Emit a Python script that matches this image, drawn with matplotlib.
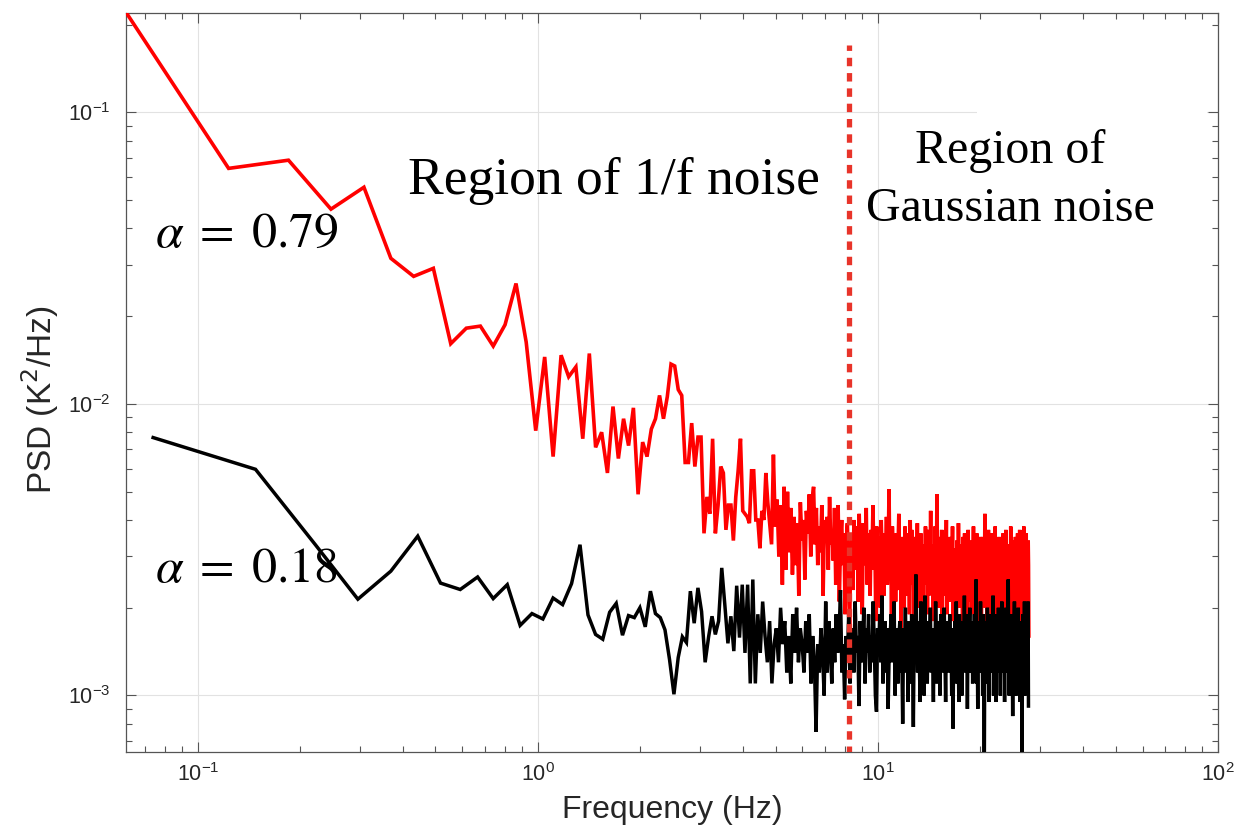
import numpy as np
import matplotlib
matplotlib.use('Agg')
import matplotlib.pyplot as plt
from matplotlib.ticker import LogLocator, NullFormatter
from matplotlib.patches import Rectangle

# ---------------- data (PSD values in units of 1e-4 K^2/Hz) ----------------
df_red = 0.0616      # frequency step of red spectrum (Hz)
df_black = 0.0739    # frequency step of black spectrum (Hz)

psd_red_e4 = [
    2200, 643, 686, 466, 554, 316, 274, 292, 161, 182,
    185, 158, 187, 259, 163, 81, 145, 66, 147, 124,
    134, 76, 149, 71, 80, 58, 98, 65, 89, 72,
    97, 49, 74, 66, 82, 89, 107, 89, 106, 137,
    135, 112, 107, 63, 63, 86, 61, 77, 77, 36,
    48, 42, 76, 36, 45, 61, 58, 37, 45, 45,
    34, 48, 59, 76, 43, 42, 41, 39, 59, 59,
    40, 40, 32,
    43, 40, 58, 46, 39, 33, 67, 38, 47, 30,
    45, 24, 52, 27, 50, 31, 44, 26, 41, 28,
    39, 22, 46, 34, 40, 25, 43, 36, 49, 30,
    47, 52, 33, 44, 28, 38, 31, 45, 22, 40,
    35, 41, 27, 48, 33, 37, 29, 44, 24, 38,
    45, 21, 34, 40, 28, 36, 19, 33, 39, 26,
    17, 30, 36, 23, 40, 31, 27, 38, 21, 42,
    29, 35, 19, 39, 33, 28, 44, 24, 36, 30,
    22, 37, 31, 45, 27, 34, 18, 38, 29, 35,
    32, 20, 40, 30, 36, 22, 33, 28, 41, 24,
    31, 51, 27, 35, 18, 38, 30, 26, 34, 21,
    36, 23, 32, 42, 27, 33, 17, 35, 29, 31,
    20, 38, 28, 34, 22, 36, 30, 19, 40, 24,
    37, 29, 31, 18, 35, 21, 32, 28, 39, 25,
    30, 34, 20, 36, 27, 31, 17, 33, 29, 26,
    38, 24, 30, 19, 37, 22, 32, 27, 43, 25,
    29, 33, 18, 31, 26, 38, 28, 21, 49, 30,
    27, 32, 20, 35, 29, 25, 37, 16, 30, 28,
    36, 22, 31, 27, 40, 19, 29, 32, 23, 30,
    21, 35, 28, 31, 25, 38, 18, 29, 27, 32,
    24, 30, 19, 34, 28, 22, 39, 27, 29, 20,
    33, 21, 30, 28, 17, 35, 24, 29, 36, 23,
    28, 32, 20, 30, 17, 37, 27, 29, 21, 31,
    26, 34, 28, 19, 30, 27, 38, 22, 29, 18,
    31, 28, 21, 36, 27, 30, 17, 33, 26, 35,
    22, 30, 28, 19, 32, 27, 35, 21, 31, 26,
    28, 42, 20, 30, 22, 29, 18, 33, 24, 37,
    30, 20, 27, 31, 25, 36, 17, 28, 26, 32,
    21, 30, 27, 19, 29, 38, 26, 28, 18, 31,
    27, 22, 33, 17, 28, 35, 26, 29, 20, 27,
    31, 23, 28, 18, 30, 36, 22, 32, 25, 29,
    19, 28, 37, 26, 22, 30, 17, 25, 33, 28,
    23, 29, 18, 31, 24, 38, 30, 21, 28, 26,
    32, 19, 29, 27, 23, 34, 16, 28, 35, 24,
    28, 31, 20, 27, 36, 22, 29, 18, 33, 26,
    37, 23, 30, 17, 25, 34, 21, 29, 26, 31,
    19, 28, 38, 25, 29, 17, 24, 33, 26, 36,
    21, 31, 27, 18, 29, 34, 28, 16,
]

psd_black_e4 = [
    76.7, 59.7, 32.9, 21.4, 26.7, 35.2, 24.3, 23.1, 25.5, 21.5,
    24.0, 17.4, 19.1, 18.3, 21.6, 20.5, 24.2, 32.9, 18.9, 16.2,
    15.6, 19.3, 20.7, 16.1, 18.8, 18.5, 20.0, 17.2, 22.8, 19.1,
    18.5, 16.8, 13.3, 10.1, 13.5, 15.9, 15.2, 22.8, 17.7, 23.4,
    19.4, 13.0, 15.9, 18.7, 16.2, 18.0, 27.4, 20.4, 15.1, 18.7,
    14.2, 23.8, 15.8, 24.0, 14.0, 24.0, 11.0,
    25, 11, 19, 14, 21, 16, 13, 18, 11, 15,
    17, 13, 20, 15, 18, 12, 16, 11, 19, 14,
    20, 13, 17, 15, 12, 18, 14, 19, 11, 16,
    13, 7.5, 15, 12, 17, 14, 10, 21, 12, 18,
    15, 11, 17, 13, 19, 14, 16, 23, 12, 15,
    9.7, 16, 13, 19, 11, 15, 17, 12, 21, 14,
    16, 9.2, 18, 13, 15, 20, 11, 17, 14, 19,
    12, 16, 13, 21, 15, 10, 8.8, 17, 14, 19,
    13, 22, 11, 15, 18, 12, 17, 9, 14, 16,
    19, 13, 15, 21, 10, 17, 14, 11, 16, 18,
    12, 15, 8.0, 17, 14, 20, 12, 16, 9.5, 18,
    15, 11, 19, 14, 7.8, 17, 13, 26, 16, 12,
    18, 14, 9.5, 21, 15, 13, 17, 10, 22, 14,
    16, 11, 18, 13, 15, 20, 12, 16, 14, 9.5,
    17, 13, 21, 15, 11, 18, 14, 16, 10, 19,
    13, 15, 17, 12, 20, 14, 9.5, 16, 13, 18,
    15, 12, 19, 14, 16, 10, 17, 7.7, 15, 13,
    18, 14, 21, 11, 16, 15, 9.5, 19, 13, 17,
    14, 10, 18, 15, 13, 22, 12, 16, 14, 19,
    9, 17, 13, 15, 20, 12, 16, 14, 18, 11,
    15, 13, 19, 14, 17, 25, 11, 16, 9, 18,
    14, 16, 12, 21, 15, 13, 17, 10, 19, 14,
    5.2, 16, 13, 18, 15, 11, 20, 14, 17, 9.5,
    16, 13, 19, 15, 12, 17, 14, 22, 10, 16,
    13, 18, 15, 9.5, 19, 14, 16, 12, 20, 13,
    17, 15, 10, 18, 14, 21, 12, 16, 13, 19,
    15, 9.5, 17, 14, 20, 12, 16, 13, 18, 25,
    14, 10, 17, 15, 13, 19, 12, 16, 14, 8.5,
    18, 13, 16, 21, 11, 15, 17, 10, 19, 14,
    16, 13, 20, 12, 15, 18, 9.5, 17, 14, 16,
    13, 5.0, 15, 19, 12, 17, 14, 21, 10, 16,
    18, 13, 15, 20, 12, 17, 21, 9.2,
]

boundary_freq = 8.2              # dashed boundary line (Hz)
boundary_top = 0.17
alpha_labels = [r'$\alpha\;=\;0.79$', r'$\alpha\;=\;0.18$']
region_labels = ['Region of 1/f noise', 'Region of\nGaussian noise']

# ---------------- figure ----------------
W, H = 1239, 830
plt.rcParams['font.family'] = ['Liberation Sans', 'DejaVu Sans']
fig = plt.figure(figsize=(W / 100, H / 100), dpi=100)

def fx(px):
    return px / W

def fy(py):
    return 1 - py / H

ax = fig.add_axes([fx(126), fy(752), (1218 - 126) / W, (752 - 13) / H])
ax.set_xscale('log')
ax.set_yscale('log')

red = np.array(psd_red_e4) * 1e-4
black = np.array(psd_black_e4) * 1e-4
f_red = df_red * np.arange(1, len(red) + 1)
f_black = df_black * np.arange(1, len(black) + 1)

ax.plot(f_red, red, color='#ff0000', lw=2.6, zorder=3, solid_joinstyle='miter')
ax.plot(f_black, black, color='#000000', lw=2.5, zorder=4, solid_joinstyle='miter')
ax.plot([boundary_freq, boundary_freq], [1e-5, boundary_top], color='#e8342a',
        lw=3.8, dashes=(1.6, 1.3), zorder=5)

ax.set_xlim(0.0615, 100)
ax.set_ylim(0.000640, 0.2194)

ax.grid(True, which='major', color='#e2e2e2', lw=0.8)
ax.grid(False, which='minor')
ax.xaxis.set_major_locator(LogLocator(base=10, numticks=10))
ax.xaxis.set_minor_locator(LogLocator(base=10, subs=np.arange(2, 10), numticks=20))
ax.yaxis.set_major_locator(LogLocator(base=10, numticks=10))
ax.yaxis.set_minor_locator(LogLocator(base=10, subs=np.arange(2, 10), numticks=20))
ax.xaxis.set_minor_formatter(NullFormatter())
ax.yaxis.set_minor_formatter(NullFormatter())

ax.tick_params(which='both', direction='in', top=True, right=True,
               color='#555555', labelcolor='#262626', labelsize=15.5)
ax.tick_params(which='major', length=7, width=0.8)
ax.tick_params(which='minor', length=4, width=0.8)
ax.tick_params(axis='x', pad=8)
ax.tick_params(axis='y', pad=11)
for s in ax.spines.values():
    s.set_color('#555555')
    s.set_linewidth(0.9)

# white patch that hides part of the top grid line (as in the reference)
ax.add_patch(Rectangle((fx(977), fy(122)), (1207 - 977) / W, 20 / H,
                       transform=fig.transFigure, facecolor='white',
                       edgecolor='none', zorder=2))

fig.text(fx(672), fy(810), 'Frequency (Hz)', ha='center', va='center',
         fontsize=23, color='#262626')
fig.text(fx(40), fy(400), r'PSD (K$^{2}$/Hz)', ha='center', va='center',
         rotation=90, fontsize=24, color='#262626')

fig.text(fx(408), fy(181), region_labels[0], ha='left', va='center',
         fontsize=38.5, family='Liberation Serif', color='black', zorder=6)
fig.text(fx(1010), fy(180), region_labels[1], ha='center', va='center',
         fontsize=34.5, family='Liberation Serif', color='black', linespacing=1.4,
         zorder=6)
fig.text(fx(155), fy(234), alpha_labels[0], ha='left', va='center',
         fontsize=36, math_fontfamily='stix', color='black', zorder=6)
fig.text(fx(155), fy(569), alpha_labels[1], ha='left', va='center',
         fontsize=36, math_fontfamily='stix', color='black', zorder=6)

fig.savefig('out.png', dpi=100, facecolor='white')
